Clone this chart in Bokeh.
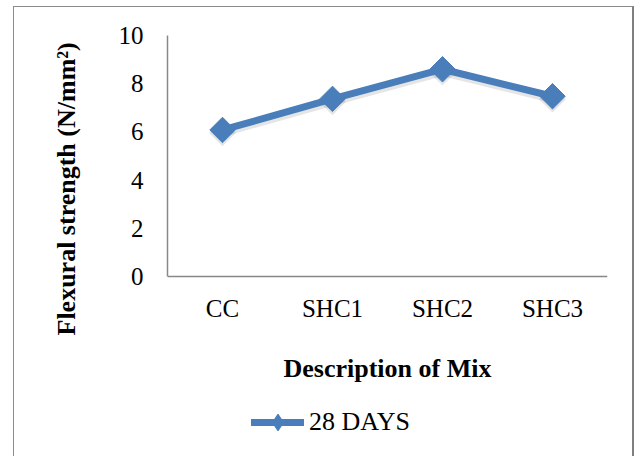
import math
from bokeh.plotting import figure
from bokeh.models import (ColumnDataSource, FactorRange, Range1d, FixedTicker,
                          Title, Legend, LegendItem)
from bokeh.embed import file_html
from bokeh.resources import INLINE

# ---- data ----
mixes = ["CC", "SHC1", "SHC2", "SHC3"]
strength_28_days = [6.08, 7.37, 8.60, 7.48]
y_ticks = [0, 2, 4, 6, 8, 10]
series_name = "28 DAYS"
x_title = "Description of Mix"
y_title = "Flexural strength (N/mm\u00b2)"

BLUE = "#4A7EBB"
AXIS = "#888888"
FONT = "Liberation Serif"

# value axis runs 0..10; frame is extended below 0 to hold the axis texts and legend
Y_MIN, Y_MAX = -7.01, 10
SHADOW_SHIFT = 0.12

src = ColumnDataSource(dict(mix=mixes, strength=strength_28_days))

p = figure(x_range=FactorRange(*mixes, range_padding=0),
           y_range=Range1d(Y_MIN, Y_MAX),
           frame_width=440, frame_height=410,
           min_border_left=153, min_border_right=25,
           min_border_top=28, min_border_bottom=11,
           output_backend="svg", toolbar_location=None)
p.extra_y_ranges = {"shadow": Range1d(Y_MIN + SHADOW_SHIFT, Y_MAX + SHADOW_SHIFT)}

p.styles = {"margin-left": "13px", "margin-top": "6px",
            "border-top": "1.5px solid #8c8c8c",
            "border-left": "1.5px solid #8c8c8c",
            "border-right": "2px solid #7f7f7f"}

p.outline_line_color = None
p.xgrid.visible = False
p.ygrid.visible = False
p.background_fill_color = "white"
p.border_fill_color = "white"

for ax in (p.xaxis[0], p.yaxis[0]):
    ax.axis_line_color = AXIS
    ax.axis_line_width = 1.5
    ax.major_tick_line_color = None
    ax.minor_tick_line_color = None
    ax.major_label_text_font = FONT
    ax.major_label_text_font_size = "25px"
    ax.major_label_text_color = "black"

p.yaxis.ticker = FixedTicker(ticks=y_ticks)
p.yaxis.bounds = (0, Y_MAX)
p.yaxis.major_label_standoff = 18

p.xaxis.fixed_location = 0
p.xaxis.major_label_standoff = 12
p.xaxis.axis_label = x_title
p.xaxis.axis_label_text_font = FONT
p.xaxis.axis_label_text_font_size = "26px"
p.xaxis.axis_label_text_font_style = "bold"
p.xaxis.axis_label_text_color = "black"
p.xaxis.axis_label_standoff = 29

ytitle = Title(text=y_title, align="left", offset=110, vertical_align="bottom",
               standoff=70, text_font=FONT, text_font_size="26px",
               text_font_style="bold", text_color="black")
p.add_layout(ytitle, "left")

# soft drop shadow (Excel style)
p.line(x="mix", y="strength", source=src, y_range_name="shadow",
       line_width=8, line_color="black", line_alpha=0.10,
       line_join="round", line_cap="round")
p.scatter(x="mix", y="strength", source=src, y_range_name="shadow",
          marker="square", angle=math.pi / 4, size=19,
          fill_color="black", fill_alpha=0.10, line_color=None)

line_r = p.line(x="mix", y="strength", source=src, line_width=7,
                line_color=BLUE, line_join="round", line_cap="round")
# legend-only diamond (drawn at zero size in the plot, full size in the legend)
leg_mark = p.scatter(x="mix", y="strength", source=src, marker="diamond",
                     size=0, fill_color=BLUE, line_color=BLUE)
mark_r = p.scatter(x="mix", y="strength", source=src, marker="square",
                   angle=math.pi / 4, size=18, fill_color=BLUE,
                   line_color=BLUE)

legend = Legend(items=[LegendItem(label=series_name, renderers=[line_r, leg_mark])],
                location=(84, 2), orientation="horizontal",
                glyph_width=53, glyph_height=42, label_standoff=5,
                padding=0, margin=0, border_line_color=None,
                background_fill_alpha=0,
                label_text_font=FONT, label_text_font_size="26px",
                label_text_color="black")
p.add_layout(legend, "center")

open("out.html", "w").write(file_html(p, INLINE))
